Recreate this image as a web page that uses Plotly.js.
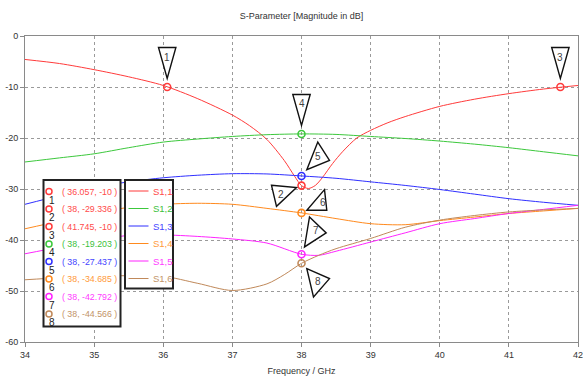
<!DOCTYPE html>
<html><head><meta charset="utf-8">
<script src="https://cdn.plot.ly/plotly-3.0.1.min.js"></script>
<style>html,body{margin:0;padding:0;background:#fff}#chart{width:583px;height:379px}</style>
</head><body><div id="chart"></div>
<script>
// ---------- data ----------
const seriesNames = ['S1,1','S1,2','S1,3','S1,4','S1,5','S1,6'];

const f11 = [34,34.5,35,35.5,36,36.5,37,37.25,37.5,37.75,37.9,38,38.1,38.2,38.3,38.45,38.6,38.8,39,39.25,39.5,40,40.5,41,41.5,42];
const s11 = [-4.6,-5.4,-6.6,-8.0,-9.7,-12.3,-15.5,-17.6,-20.3,-24.4,-27.5,-29.34,-29.9,-29.3,-27.8,-25.0,-22.6,-20.0,-18.5,-17.0,-15.8,-13.8,-12.4,-11.3,-10.4,-9.7];

const f12 = [34,34.5,35,35.5,36,36.5,37,37.5,38,38.5,39,39.5,40,40.5,41,41.5,42];
const s12 = [-24.7,-23.9,-23.1,-21.9,-20.8,-20.2,-19.7,-19.35,-19.2,-19.3,-19.7,-20.1,-20.6,-21.2,-21.9,-22.7,-23.5];

const f13 = [34,34.5,35,35.5,36,36.5,37,37.5,38,38.5,39,39.5,40,40.5,41,41.5,42];
const s13 = [-33.0,-31.3,-29.7,-28.6,-27.8,-27.3,-27.0,-27.05,-27.44,-27.9,-28.6,-29.3,-30.1,-31.0,-31.9,-32.6,-33.2];

const f14 = [34,34.5,35,35.5,36,36.5,37,37.5,38,38.5,39,39.5,40,40.5,41,41.5,42];
const s14 = [-37.8,-36.3,-34.8,-33.6,-33.0,-32.8,-33.0,-33.8,-34.69,-35.8,-36.8,-37.0,-36.2,-35.5,-34.8,-34.3,-33.8];

const f15 = [34,34.5,35,35.5,36,36.5,37,37.5,38,38.25,38.5,39,39.5,40,40.5,41,41.5,42];
const s15 = [-42.7,-41.4,-40.1,-39.1,-39.0,-39.3,-39.8,-40.6,-42.79,-43.0,-42.2,-40.4,-38.6,-36.8,-35.8,-34.8,-34.0,-33.2];

const f16 = [34,34.5,35,35.5,36,36.5,37,37.5,37.75,38,38.25,38.5,39,39.5,40,40.5,41,41.5,42];
const s16 = [-47.8,-47.4,-47.1,-47.0,-47.1,-48.5,-49.9,-48.6,-46.8,-44.57,-43.0,-41.7,-39.7,-37.5,-36.1,-35.2,-34.5,-34.1,-33.8];

const markerNums   = [1,2,3,4,5,6,7,8];
const markerFreq   = [36.057,38,41.745,38,38,38,38,38];
const markerVal    = [-10,-29.336,-10,-19.203,-27.437,-34.685,-42.792,-44.566];
const markerSeries = [0,0,0,1,2,3,4,5];

const xTicks = [34,35,36,37,38,39,40,41,42];
const yTicks = [0,-10,-20,-30,-40,-50,-60];

// ---------- style ----------
const lineColors = ['#ff3b3b','#3cc83c','#2f2fff','#ff8a1e','#ff24ff','#c0895a'];
const textColors = ['#ff4a4a','#3cbf3c','#4444ff','#ff9a3a','#ff3cff','#c29468'];
const FONT = '"Liberation Sans", Arial, sans-serif';

// triangle label callouts: pixel offsets from marker (y up), and label offset
const calloutTri = [
  [[-8.7,39.5],[8.7,39.5],[0,8.5]],
  [[-30,0.3],[-5,-2],[-25,-20.7]],
  [[-8.7,39.5],[8.7,39.5],[0,8.5]],
  [[-8.7,39.5],[8.7,39.5],[0,8.5]],
  [[16.3,33.9],[28,15.6],[5.3,6.3]],
  [[23,23.3],[25.3,2.6],[5.3,2.6]],
  [[8,37.3],[24.7,21.3],[3,7.3]],
  [[5.3,-5.3],[28,-15.3],[12,-33.7]]
];
const calloutLbl = [[0,30],[-21,-9],[0,30],[0,30],[16.5,19.5],[21,10.5],[14,24],[16.5,-18.5]];

const PL=25, PW=553, PT=36, PH=306;
const xp = px => (px-PL)/PW;
const yp = py => (PT+PH-py)/PH;

const fs=[f11,f12,f13,f14,f15,f16], ss=[s11,s12,s13,s14,s15,s16];
const traces = fs.map((f,i)=>({
  x:f, y:ss[i], type:'scatter', mode:'lines', name:seriesNames[i],
  line:{color:lineColors[i], width:1, shape:'spline', smoothing:0.8},
  hoverinfo:'skip'
}));
traces.push({
  x:markerFreq, y:markerVal, type:'scatter', mode:'markers',
  marker:{symbol:'circle-open', size:7, color:markerSeries.map(s=>lineColors[s]), line:{width:1.6, color:markerSeries.map(s=>lineColors[s])}},
  hoverinfo:'skip'
});

const shapes = [];
const annotations = [];

// callouts
markerNums.forEach((n,i)=>{
  const t = calloutTri[i];
  shapes.push({type:'path', xref:'x', yref:'y', xsizemode:'pixel', ysizemode:'pixel',
    xanchor:markerFreq[i], yanchor:markerVal[i],
    path:'M'+t[0][0]+','+t[0][1]+' L'+t[1][0]+','+t[1][1]+' L'+t[2][0]+','+t[2][1]+' Z',
    fillcolor:'#ffffff', line:{color:'#111', width:1.4}, layer:'above'});
  annotations.push({x:markerFreq[i], y:markerVal[i], xref:'x', yref:'y', text:String(n), showarrow:false,
    xshift:calloutLbl[i][0], yshift:calloutLbl[i][1], font:{family:FONT,size:10,color:'#444'}});
});

// marker list box
shapes.push({type:'rect', xref:'paper', yref:'paper', x0:xp(43.5), x1:xp(120.5), y0:yp(326.5), y1:yp(180),
  fillcolor:'#fff', line:{color:'#222', width:2}, layer:'above'});
// series legend box
shapes.push({type:'rect', xref:'paper', yref:'paper', x0:xp(125), x1:xp(173), y0:yp(288.5), y1:yp(180),
  fillcolor:'#fff', line:{color:'#222', width:2}, layer:'above'});

markerNums.forEach((n,i)=>{
  const cy = 191.5 + 17.5*i;
  const c = lineColors[markerSeries[i]];
  shapes.push({type:'circle', xref:'paper', yref:'paper', xsizemode:'pixel', ysizemode:'pixel',
    xanchor:xp(49), yanchor:yp(cy), x0:-3, x1:3, y0:-3, y1:3, line:{color:c, width:1.5}, layer:'above'});
  annotations.push({xref:'paper', yref:'paper', x:xp(52), y:yp(cy+8.5), text:String(n), showarrow:false,
    xanchor:'center', yanchor:'middle', font:{family:FONT,size:10,color:'#222'}});
  annotations.push({xref:'paper', yref:'paper', x:xp(59.5), y:yp(cy), text:'( '+markerFreq[i]+', '+markerVal[i]+' )',
    showarrow:false, xanchor:'left', yanchor:'middle', font:{family:FONT,size:8.8,color:textColors[markerSeries[i]]}});
});

seriesNames.forEach((nm,i)=>{
  const cy = 191 + 17.5*i;
  shapes.push({type:'line', xref:'paper', yref:'paper', x0:xp(128.5), x1:xp(148.5), y0:yp(cy), y1:yp(cy),
    line:{color:lineColors[i], width:1}, layer:'above'});
  annotations.push({xref:'paper', yref:'paper', x:xp(151), y:yp(cy), text:nm, showarrow:false,
    xanchor:'left', yanchor:'middle', font:{family:FONT,size:9.5,color:textColors[i]}});
});

const axisCommon = {showgrid:true, gridcolor:'#9a9a9a', griddash:'dot', gridwidth:1,
  showline:true, linecolor:'#8a8a8a', linewidth:1, mirror:true, ticks:'outside', ticklen:4,
  tickcolor:'#8a8a8a', zeroline:false, fixedrange:true, ticklabeloverflow:'allow',
  tickfont:{family:FONT,size:9,color:'#333'}};

const layout = {
  width:583, height:379, margin:{l:PL, r:583-PL-PW, t:PT, b:379-PT-PH},
  paper_bgcolor:'#fff', plot_bgcolor:'#fff', showlegend:false,
  font:{family:FONT, size:9, color:'#333'},
  title:{text:'S-Parameter [Magnitude in dB]', xref:'paper', x:0.5, xanchor:'center',
    yref:'container', y:1-16/379, yanchor:'middle', font:{family:FONT,size:9,color:'#333'}},
  xaxis:Object.assign({}, axisCommon, {range:[34,42], tickvals:xTicks, ticktext:xTicks.map(String),
    title:{text:'Frequency / GHz', standoff:8, font:{family:FONT,size:9,color:'#333'}}}),
  yaxis:Object.assign({}, axisCommon, {range:[-60,0], tickvals:yTicks, ticktext:yTicks.map(String)}),
  shapes:shapes, annotations:annotations
};

Plotly.newPlot('chart', traces, layout, {staticPlot:true, displayModeBar:false});
</script>
</body></html>
